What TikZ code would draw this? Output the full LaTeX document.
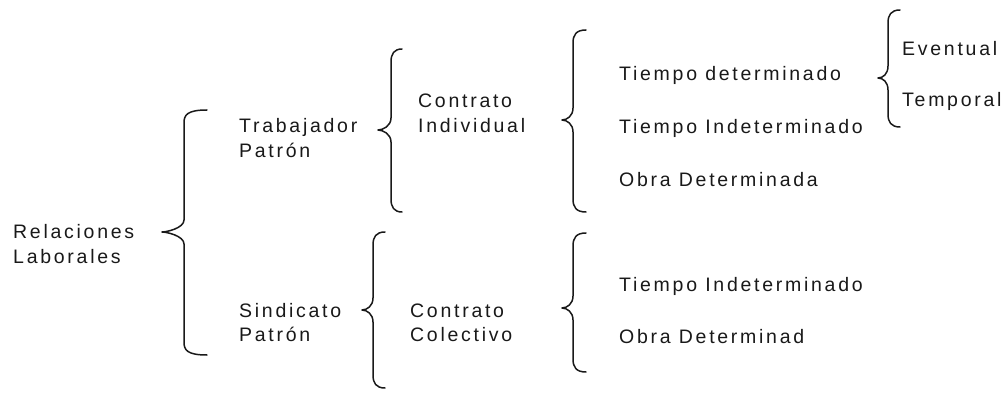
\documentclass[tikz,border=0pt]{standalone}
\usepackage{fontspec}
\setmainfont{Liberation Sans}[LetterSpace=14]
\newcommand\mybrc[6]{% tip x, tip y, vertical x, end x, top y, bottom y
  \draw[brc] (#4,#5) .. controls (#3+3,#5) and (#3,#5+5) .. (#3,#5+13)
    -- (#3,#2-12) .. controls (#3,#2-4) and (#1+5,#2) .. (#1,#2)
    .. controls (#1+5,#2) and (#3,#2+4) .. (#3,#2+12)
    -- (#3,#6-13) .. controls (#3,#6-5) and (#3+3,#6) .. (#4,#6);}
\begin{document}
\begin{tikzpicture}[x=1pt,y=-1pt,
  brc/.style={line width=1.5pt,black!90,line cap=round,line join=round},
  lbl/.style={anchor=base west,inner sep=0pt,font=\fontsize{19.5}{23}\selectfont,text=black!90}]
\fill[white] (0,0) rectangle (1005,393);
\useasboundingbox (0,0) rectangle (1005,393);
% texts
\node[lbl] (rel) at (13,238) {Relaciones};
\node[lbl] (lab) at (13,263) {Laborales};
\node[lbl] (trab) at (239,133) {Trabajador};
\node[lbl] (pat1) at (239,158) {Patrón};
\node[lbl] (sind) at (239,317) {Sindicato};
\node[lbl] (pat2) at (239,341) {Patrón};
\node[lbl] (con1) at (418,108) {Contrato};
\node[lbl] (ind) at (418,133) {Individual};
\node[lbl] (con2) at (410,317) {Contrato};
\node[lbl] (col) at (410,341) {Colectivo};
\node[lbl] (td) at (619,81) {Tiempo determinado};
\node[lbl] (ti1) at (619,134) {Tiempo Indeterminado};
\node[lbl] (od1) at (619,187) {Obra Determinada};
\node[lbl] (ti2) at (619,291) {Tiempo Indeterminado};
\node[lbl] (od2) at (619,343) {Obra Determinad};
\node[lbl] (ev) at (902,56) {Eventual};
\node[lbl] (tp) at (902,107) {Temporal};
% braces
\mybrc{162}{232}{184}{207}{110}{355}
\mybrc{378}{130}{391}{402}{49}{212}
\mybrc{362}{310}{373}{385}{232}{388}
\mybrc{562}{120}{573}{586}{30}{212}
\mybrc{562}{308}{573}{586}{233}{372}
\mybrc{878}{78}{888}{900}{10}{127}
\end{tikzpicture}
\end{document}
